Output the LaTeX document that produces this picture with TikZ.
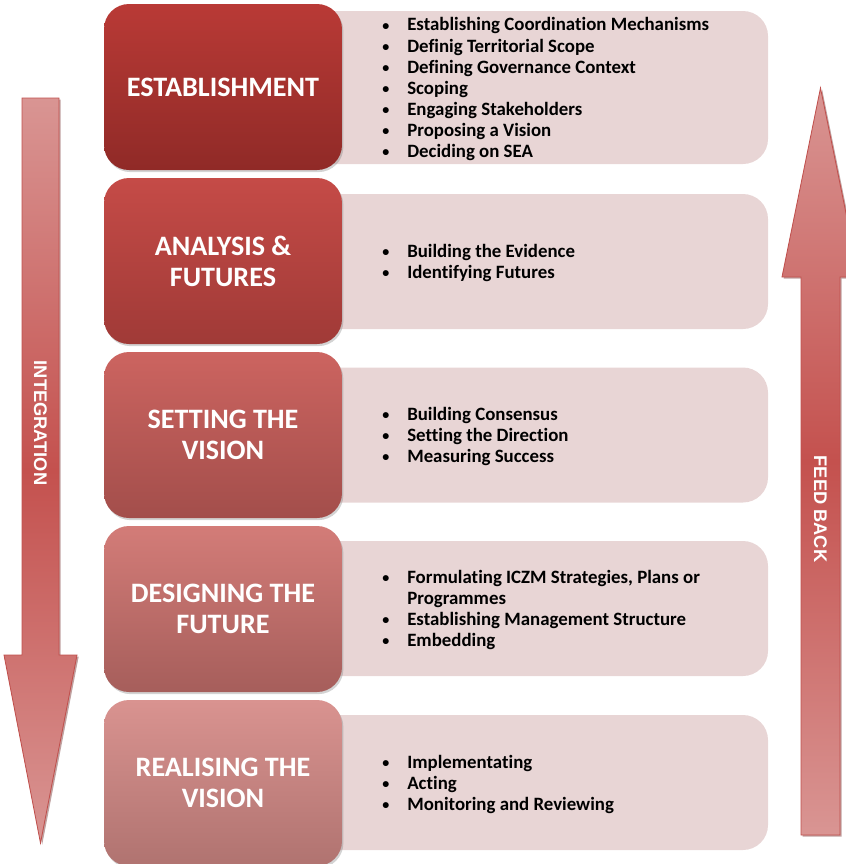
\documentclass[tikz,border=0pt]{standalone}
\usepackage{fontspec}
\setmainfont{Carlito}[Ligatures=NoCommon]
\newfontfamily\arrowfont{Liberation Sans}
\usetikzlibrary{shadows}

\newlength\unitpx
\setlength\unitpx{0.025cm}

\definecolor{estabtop}{HTML}{B93A36}
\definecolor{estabbot}{HTML}{902A27}
\definecolor{analysistop}{HTML}{C54B47}
\definecolor{analysisbot}{HTML}{A03A37}
\definecolor{visiontop}{HTML}{CC6460}
\definecolor{visionbot}{HTML}{A34E4B}
\definecolor{designtop}{HTML}{D37C78}
\definecolor{designbot}{HTML}{A65E5B}
\definecolor{realisetop}{HTML}{D99390}
\definecolor{realisebot}{HTML}{B07370}
\definecolor{notesfill}{HTML}{E8D5D5}
\definecolor{arrowlight}{HTML}{D99593}
\definecolor{arrowdark}{HTML}{C4514E}
\definecolor{arrowedge}{HTML}{C0504D}

% one bullet line, and a continuation line
\newcommand{\itm}[1]{\makebox[25\unitpx][l]{\raisebox{0.5pt}{\fontsize{10}{10}\selectfont\textbullet}}#1}
\newcommand{\cnt}[1]{\makebox[25\unitpx][l]{}#1}

\tikzset{
	stage/.style={rounded corners=25\unitpx, minimum width=238\unitpx, minimum height=166\unitpx,
		align=center, text=white, font=\fontsize{20}{22}\selectfont\bfseries,
		drop shadow={shadow xshift=1pt, shadow yshift=-1.5pt, opacity=0.35}},
	notes/.style={rounded corners=25\unitpx, fill=notesfill, minimum width=468\unitpx},
	itemlist/.style={anchor=west, align=left, inner sep=0pt, font=\fontsize{13.4}{14.94}\selectfont\bfseries},
	arrowbody/.style={draw=arrowedge, line width=0.6pt, top color=arrowlight, bottom color=arrowlight, middle color=arrowdark,
		drop shadow={shadow xshift=1.2pt, shadow yshift=-1.2pt, opacity=0.45, fill=arrowedge!60!black}},
	arrowlabel/.style={text=white, font=\arrowfont\fontsize{13}{15}\selectfont\bfseries, rotate=-90}
}

\begin{document}
\begin{tikzpicture}[x=\unitpx, y=-\unitpx]
	\useasboundingbox (0,0) rectangle (846,864);

	% light boxes behind
	\foreach \n/\y/\h in {estab/87.5/153, analysis/261.5/135, vision/435/135, design/608.5/135, realise/782.5/135}
	{
		\node[notes, minimum height=\h\unitpx] (\n-notes) at (534,\y) {};
	}

	% stage boxes
	\foreach \n/\y/\title in {estab/87/ESTABLISHMENT, analysis/261/{ANALYSIS \&\\FUTURES}, vision/435/{SETTING THE\\VISION}, design/609/{DESIGNING THE\\FUTURE}, realise/783/{REALISING THE\\VISION}}
	{
		\node[stage, top color=\n top, bottom color=\n bot] (\n) at (223,\y) {\title};
	}

	\node[itemlist] (estab-list) at (382,89) {\itm{Establishing Coordination Mechanisms}\\ \itm{Definig Territorial Scope}\\ \itm{Defining Governance Context}\\ \itm{Scoping}\\ \itm{Engaging Stakeholders}\\ \itm{Proposing a Vision}\\ \itm{Deciding on SEA}};
	\node[itemlist] (analysis-list) at (382,263) {\itm{Building the Evidence}\\ \itm{Identifying Futures}};
	\node[itemlist] (vision-list) at (382,436.5) {\itm{Building Consensus}\\ \itm{Setting the Direction}\\ \itm{Measuring Success}};
	\node[itemlist] (design-list) at (382,610) {\itm{Formulating ICZM Strategies, Plans or}\\ \cnt{Programmes}\\ \itm{Establishing Management Structure}\\ \itm{Embedding}};
	\node[itemlist] (realise-list) at (382,784) {\itm{Implementating}\\ \itm{Acting}\\ \itm{Monitoring and Reviewing}};

	% side arrows
	\draw[arrowbody] (22,98) -- (59,98) -- (59,655) -- (77,655) -- (40.5,843) -- (4,655) -- (22,655) -- cycle;
	\draw[arrowbody] (801,835) -- (801,277) -- (782,277) -- (820.5,88) -- (859,277) -- (840,277) -- (840,835) -- cycle;

	\node[arrowlabel] (integration) at (40.5,423) {INTEGRATION};
	\node[arrowlabel] (feedback) at (820.5,509) {FEED BACK};
\end{tikzpicture}
\end{document}
